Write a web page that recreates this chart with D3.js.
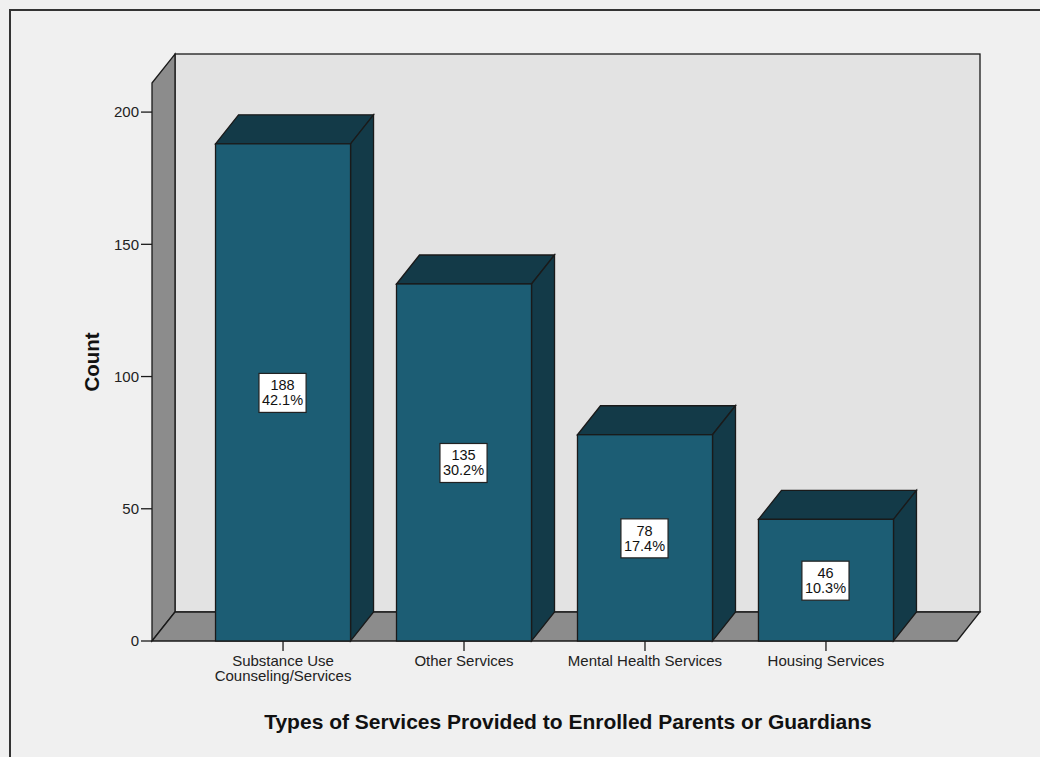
<!DOCTYPE html>
<html>
<head>
<meta charset="utf-8">
<script src="https://cdn.jsdelivr.net/npm/d3@7"></script>
<style>
html,body{margin:0;padding:0;background:#f0f0f0;}
svg{display:block;font-family:"Liberation Sans",Arial,sans-serif;}
</style>
</head>
<body>
<svg id="chart" width="1040" height="757"></svg>
<script>
const categories = [["Substance Use","Counseling/Services"],["Other Services"],["Mental Health Services"],["Housing Services"]];
const counts = [188, 135, 78, 46];
const percents = ["42.1%", "30.2%", "17.4%", "10.3%"];
const yTicks = [0, 50, 100, 150, 200];
const yTitle = "Count";
const xTitle = "Types of Services Provided to Enrolled Parents or Guardians";

const svg = d3.select("#chart");
const W = 1040, H = 757;
const dx = 23, dy = -29;
const x0 = 152, x1 = 957, yBase = 641;

svg.append("rect").attr("width", W).attr("height", H).attr("fill", "#f0f0f0");
svg.append("path").attr("d", `M10,${H+5} L10,10 L${W+5},10`).attr("fill","none").attr("stroke","#333").attr("stroke-width",2);

const y = d3.scaleLinear().domain([0, 211]).range([yBase, 83]);
const x = d3.scaleBand().domain(d3.range(counts.length)).range([x0, x1]).paddingInner(0.254).paddingOuter(0.351);

const stroke = "#1a1a1a";
const yTop = y.range()[1];
// back wall
svg.append("rect").attr("x", x0+dx).attr("y", yTop+dy).attr("width", x1-x0).attr("height", yBase-yTop)
  .attr("fill", "#e3e3e3").attr("stroke", stroke).attr("stroke-width", 1.3);
// left wall
svg.append("polygon").attr("points", [[x0,yTop],[x0+dx,yTop+dy],[x0+dx,yBase+dy],[x0,yBase]].join(" "))
  .attr("fill", "#8c8c8c").attr("stroke", stroke).attr("stroke-width", 1.3);
// floor
svg.append("polygon").attr("points", [[x0,yBase],[x0+dx,yBase+dy],[x1+dx,yBase+dy],[x1,yBase]].join(" "))
  .attr("fill", "#8c8c8c").attr("stroke", stroke).attr("stroke-width", 1.3);

// y axis ticks
const yAxis = svg.append("g");
yTicks.forEach(t => {
  yAxis.append("line").attr("x1", x0-11).attr("x2", x0).attr("y1", y(t)).attr("y2", y(t)).attr("stroke", stroke).attr("stroke-width", 1.3);
  yAxis.append("text").attr("x", x0-13).attr("y", y(t)).attr("dy", "0.36em").attr("text-anchor", "end")
    .attr("font-size", 15).attr("fill", "#222").text(t);
});
svg.append("text").attr("transform", `translate(99,${(yBase+yTop)/2}) rotate(-90)`).attr("text-anchor","middle")
  .attr("font-size", 20.5).attr("font-weight","bold").attr("fill","#111").text(yTitle);

const front = "#1c5d74", dark = "#133a48";
const bw = x.bandwidth();
counts.forEach((c, i) => {
  const bx = x(i), by = y(c);
  const g = svg.append("g");
  g.append("polygon").attr("points", [[bx,by],[bx+dx,by+dy],[bx+bw+dx,by+dy],[bx+bw,by]].join(" "))
    .attr("fill", dark).attr("stroke", stroke).attr("stroke-width", 1.3);
  g.append("polygon").attr("points", [[bx+bw,by],[bx+bw+dx,by+dy],[bx+bw+dx,yBase+dy],[bx+bw,yBase]].join(" "))
    .attr("fill", dark).attr("stroke", stroke).attr("stroke-width", 1.3);
  g.append("rect").attr("x", bx).attr("y", by).attr("width", bw).attr("height", yBase-by)
    .attr("fill", front).attr("stroke", stroke).attr("stroke-width", 1.3);
  // label box
  const cx = bx + bw/2 - 0.5, cy = (by + yBase)/2;
  const lines = [String(c), percents[i]];
  const tmp = g.append("g");
  const texts = lines.map((l, k) => tmp.append("text").attr("x", cx).attr("y", cy + (k===0 ? -2 : 13)).attr("text-anchor","middle")
    .attr("font-size", 14.5).attr("fill","#111").text(l));
  const wmax = d3.max(texts, t => t.node().getComputedTextLength());
  tmp.insert("rect", "text").attr("x", cx - wmax/2 - 3).attr("y", cy - 19).attr("width", wmax + 6).attr("height", 39)
    .attr("fill", "#fff").attr("stroke", "#222").attr("stroke-width", 1.2);
});

// x axis ticks and labels
counts.forEach((c, i) => {
  const cx = x(i) + bw/2;
  svg.append("line").attr("x1", cx).attr("x2", cx).attr("y1", yBase).attr("y2", yBase+10).attr("stroke", stroke).attr("stroke-width", 1.3);
  categories[i].forEach((l, k) => {
    svg.append("text").attr("x", cx).attr("y", yBase + 25 + k*15).attr("text-anchor","middle")
      .attr("font-size", 15).attr("fill","#222").text(l);
  });
});

svg.append("text").attr("x", 568).attr("y", 729).attr("text-anchor","middle")
  .attr("font-size", 21).attr("font-weight","bold").attr("fill","#111").text(xTitle);
</script>
</body>
</html>
